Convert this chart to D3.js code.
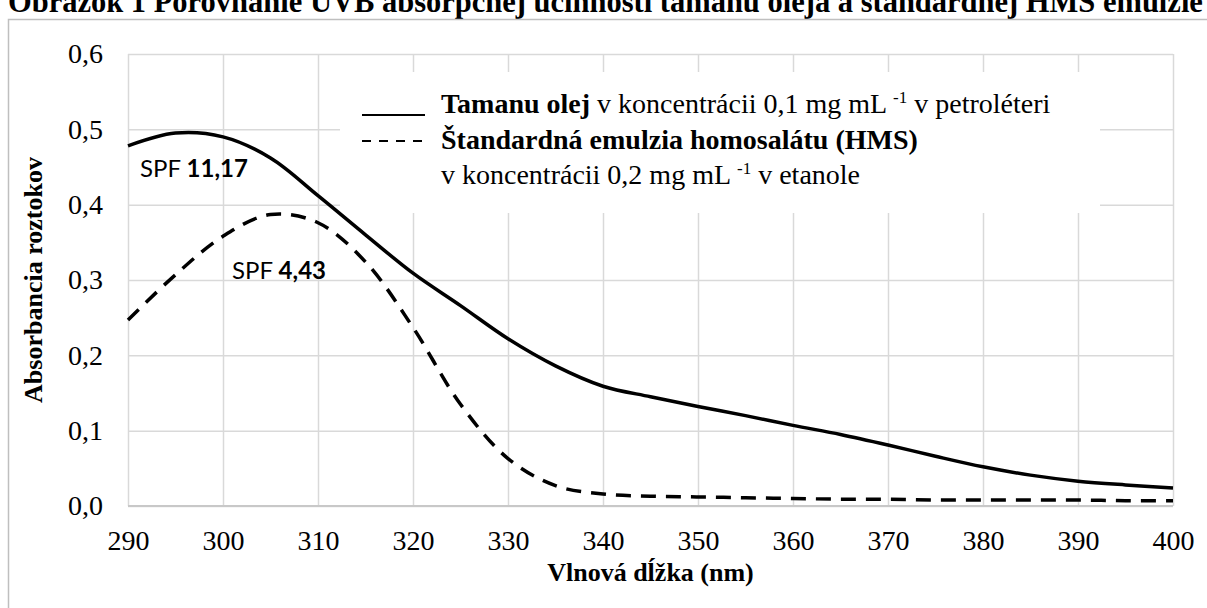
<!DOCTYPE html>
<html>
<head>
<meta charset="utf-8">
<script src="https://cdn.jsdelivr.net/npm/d3@7"></script>
<style>
  body { margin: 0; background: #fff; }
  svg { display: block; }
</style>
</head>
<body>
<div id="chart"></div>
<script>
// wavelengths (nm) and absorbance of both samples
const wavelengths = [290, 295, 300, 305, 310, 315, 320, 325, 330, 335, 340, 345,
    350, 355, 360, 365, 370, 375, 380, 385, 390, 395, 400];
const tamanuOil = [0.478, 0.495, 0.490, 0.462, 0.412, 0.360, 0.309, 0.266, 0.222, 0.186, 0.159, 0.145,
    0.132, 0.120, 0.107, 0.095, 0.081, 0.066, 0.052, 0.041, 0.033, 0.028, 0.024];
const hmsEmulsion = [0.247, 0.307, 0.358, 0.387, 0.376, 0.324, 0.237, 0.135, 0.063, 0.027, 0.016, 0.013,
    0.012, 0.011, 0.010, 0.009, 0.009, 0.008, 0.008, 0.008, 0.008, 0.007, 0.007];
const xTicks = [290, 300, 310, 320, 330, 340, 350, 360, 370, 380, 390, 400];
const yTicks = [0, 0.1, 0.2, 0.3, 0.4, 0.5, 0.6];
const spfLabels = [
    {name: 'SPF ', value: '11,17'},
    {name: 'SPF ', value: '4,43'}
];

const canvWidth = 1207, canvHeight = 608;
const margin = {top: 54, right: 34, bottom: 102, left: 128};
const width = canvWidth - margin.left - margin.right;
const height = canvHeight - margin.top - margin.bottom;

const serif = "'Liberation Serif', 'Times New Roman', serif";
const sans = "Lato, 'Noto Sans', sans-serif";

const svg = d3.select('#chart')
    .append('svg')
    .attr('width', canvWidth)
    .attr('height', canvHeight);

// caption of the figure, cut off by the page top
svg.append('text')
    .attr('x', 8)
    .attr('y', 12)
    .attr('font-family', serif)
    .attr('font-weight', 'bold')
    .attr('font-size', 30.5)
    .text('Obrázok 1 Porovnanie UVB absorpčnej účinnosti tamanu oleja a štandardnej HMS emulzie');

// chart frame
svg.append('rect')
    .attr('x', 8.5)
    .attr('y', 19.5)
    .attr('width', 1300)
    .attr('height', 700)
    .attr('fill', 'none')
    .attr('stroke', '#bfbfbf')
    .attr('stroke-width', 1.5);

const g = svg.append('g')
    .attr('transform', `translate(${margin.left},${margin.top})`);

const x = d3.scaleLinear().domain([290, 400]).range([0, width]);
const y = d3.scaleLinear().domain([0, 0.6]).range([height, 0]);
const comma = d => d3.format('.1f')(d).replace('.', ',');

// X axis with vertical grid
g.append('g')
    .attr('class', 'xaxis')
    .attr('transform', `translate(0,${height})`)
    .call(d3.axisBottom(x).tickValues(xTicks).tickSize(-height).tickPadding(24).tickFormat(d3.format('d')))
    .call(a => a.select('.domain').remove())
    .call(a => a.selectAll('.tick line').attr('stroke', '#d9d9d9').attr('stroke-width', 1.5))
    .call(a => a.selectAll('.tick text')
        .attr('font-family', serif).attr('font-size', 28).attr('fill', '#000'));

// Y axis with horizontal grid
g.append('g')
    .attr('class', 'yaxis')
    .call(d3.axisLeft(y).tickValues(yTicks).tickSize(-width).tickPadding(25).tickFormat(comma))
    .call(a => a.select('.domain').remove())
    .call(a => a.selectAll('.tick line').attr('stroke', '#d9d9d9').attr('stroke-width', 1.5))
    .call(a => a.selectAll('.tick text')
        .attr('font-family', serif).attr('font-size', 28).attr('fill', '#000'));

// axis baseline
g.append('line')
    .attr('x1', 0).attr('x2', width)
    .attr('y1', height).attr('y2', height)
    .attr('stroke', '#c8c8c8')
    .attr('stroke-width', 2);

// axis titles
svg.append('text')
    .attr('x', margin.left + width / 2)
    .attr('y', 581)
    .attr('text-anchor', 'middle')
    .attr('font-family', serif)
    .attr('font-weight', 'bold')
    .attr('font-size', 26)
    .text('Vlnová dĺžka (nm)');

svg.append('text')
    .attr('transform', `translate(42,${margin.top + height / 2}) rotate(-90)`)
    .attr('text-anchor', 'middle')
    .attr('font-family', serif)
    .attr('font-weight', 'bold')
    .attr('font-size', 26)
    .text('Absorbancia roztokov');

// white text box of the legend hides the grid behind it
g.append('rect')
    .attr('x', 340 - margin.left)
    .attr('y', 72 - margin.top)
    .attr('width', 760)
    .attr('height', 141)
    .attr('fill', '#fff');

// curves
const line = d3.line()
    .x((d, i) => x(wavelengths[i]))
    .y(d => y(d))
    .curve(d3.curveCatmullRom.alpha(0.5));

g.append('path')
    .attr('d', line(hmsEmulsion))
    .attr('fill', 'none')
    .attr('stroke', '#000')
    .attr('stroke-width', 3.5)
    .attr('stroke-dasharray', '15,10');

g.append('path')
    .attr('d', line(tamanuOil))
    .attr('fill', 'none')
    .attr('stroke', '#000')
    .attr('stroke-width', 3.5);

// SPF annotations
const spfPos = [{x: 140, y: 177}, {x: 232, y: 279}];
spfLabels.forEach((s, i) => {
    const t = svg.append('text')
        .attr('x', spfPos[i].x)
        .attr('y', spfPos[i].y)
        .attr('font-family', sans)
        .attr('font-size', 24)
        .attr('fill', '#000');
    t.append('tspan').text(s.name);
    t.append('tspan').attr('font-weight', 'bold').text(s.value);
});

// legend text box
const legend = svg.append('g')
    .attr('font-family', serif)
    .attr('font-size', 28)
    .attr('fill', '#000');

legend.append('line')
    .attr('x1', 362).attr('x2', 425)
    .attr('y1', 115).attr('y2', 115)
    .attr('stroke', '#000').attr('stroke-width', 2);

legend.append('line')
    .attr('x1', 362).attr('x2', 425)
    .attr('y1', 141).attr('y2', 141)
    .attr('stroke', '#000').attr('stroke-width', 2)
    .attr('stroke-dasharray', '9,8');

const row1 = legend.append('text').attr('x', 441).attr('y', 113);
row1.append('tspan').attr('font-weight', 'bold').text('Tamanu olej');
row1.append('tspan').text(' v koncentrácii 0,1 mg mL ');
row1.append('tspan').attr('font-size', 17).attr('dy', -10).text('-1');
row1.append('tspan').attr('dy', 10).text(' v petroléteri');

legend.append('text').attr('x', 441).attr('y', 149)
    .attr('font-weight', 'bold')
    .text('Štandardná emulzia homosalátu (HMS)');

const row3 = legend.append('text').attr('x', 441).attr('y', 184);
row3.append('tspan').text('v koncentrácii 0,2 mg mL ');
row3.append('tspan').attr('font-size', 17).attr('dy', -10).text('-1');
row3.append('tspan').attr('dy', 10).text(' v etanole');
</script>
</body>
</html>
